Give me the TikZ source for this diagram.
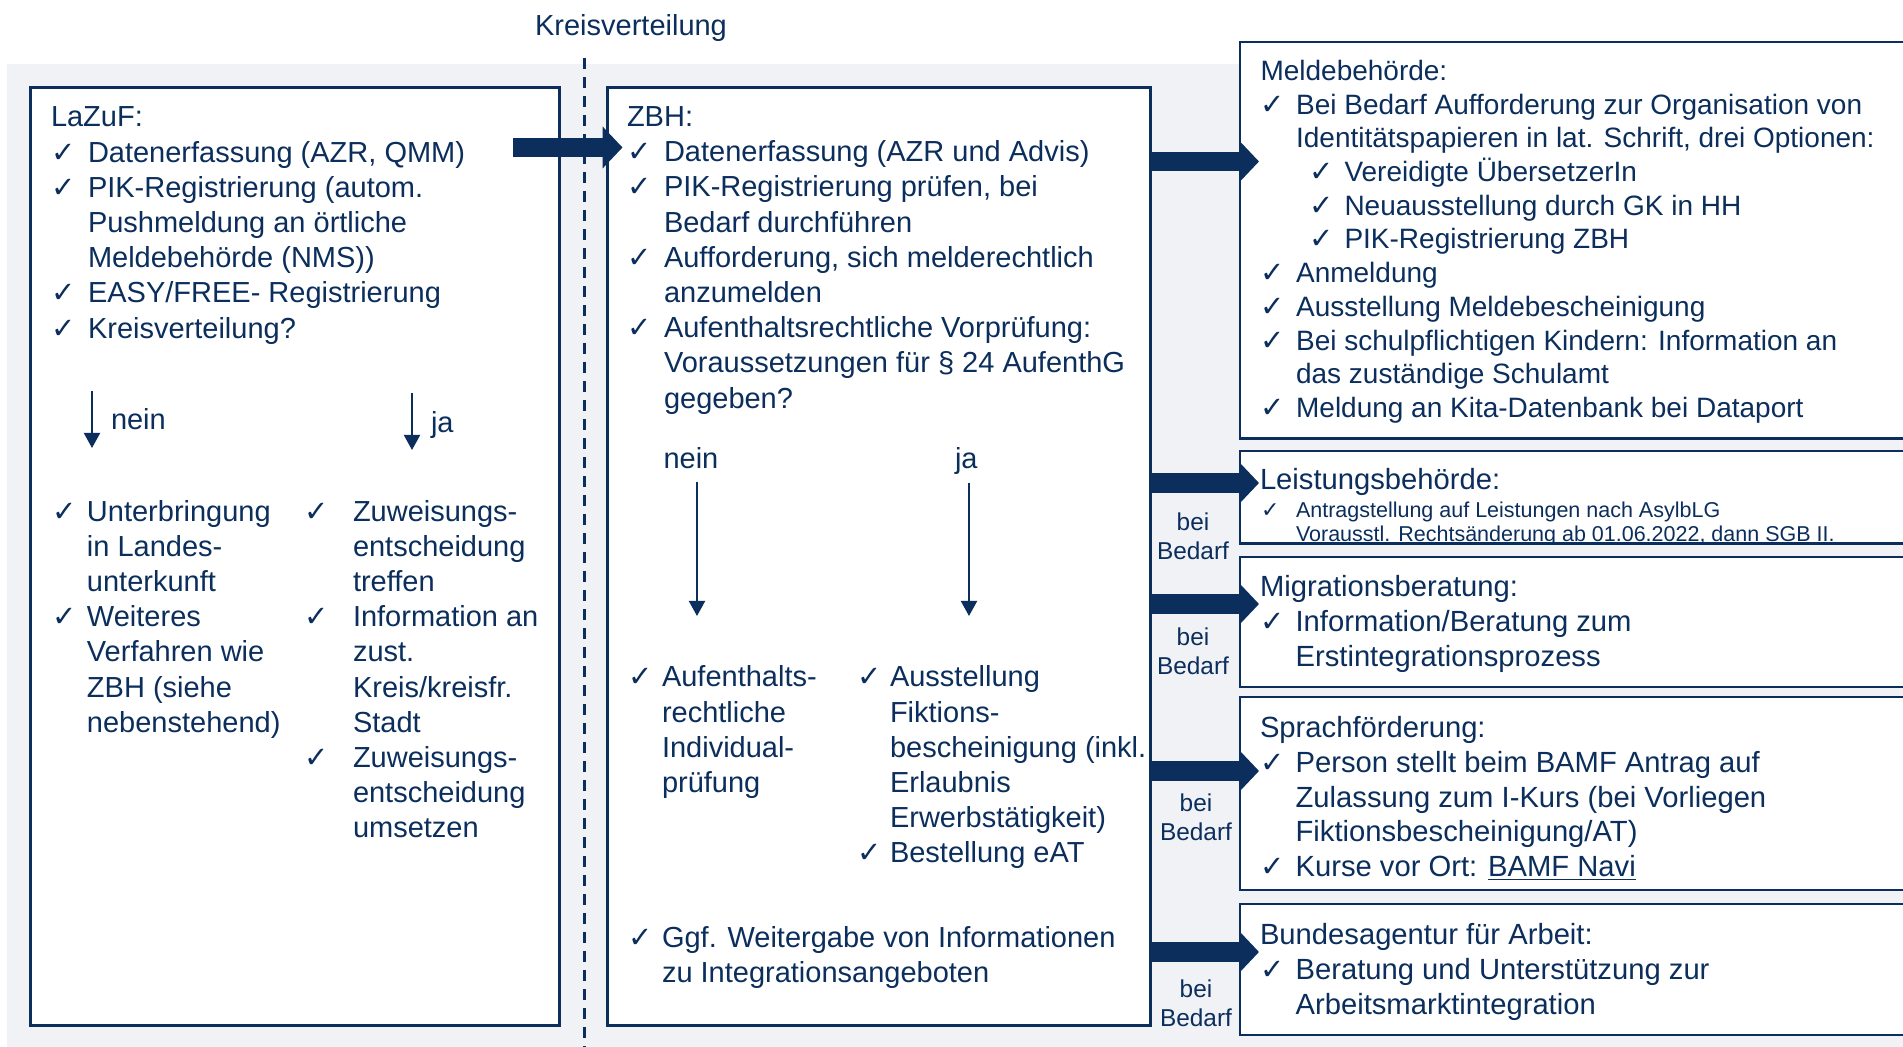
\documentclass[tikz,border=0pt]{standalone}
\usepackage{fontspec}
\setmainfont{Liberation Sans}
\newfontfamily\ckfam{DejaVu Sans}
\usetikzlibrary{arrows.meta,calc}
\definecolor{navy}{HTML}{0B2E5C}
\definecolor{bggrey}{HTML}{F1F2F6}
\newcommand\ckm[1]{\makebox[#1][l]{\ckfam\fontsize{14.5pt}{14.5pt}\selectfont ✓}}
\newcommand\cks[1]{\makebox[#1][l]{\ckfam\fontsize{11pt}{11pt}\selectfont ✓}}
\newcommand\indm[1]{\hspace*{#1}}
\newcommand\fstrut{\rule{0pt}{14pt}}
\begin{document}
\begin{tikzpicture}[x=0.5pt,y=-0.5pt,
  every node/.style={inner sep=0pt,outer sep=0pt,text=navy},
  frame/.style={draw=navy,line width=1.3pt,fill=white,anchor=north west},
  tx/.style={yshift=-0.75pt},
  blk/.style={tx,anchor=north west,align=left,font=\fontsize{14.5pt}{17.6pt}\selectfont},
  mblk/.style={tx,anchor=north west,align=left,font=\fontsize{14pt}{16.85pt}\selectfont},
  rblk/.style={tx,anchor=north west,align=left,font=\fontsize{14.6pt}{17.4pt}\selectfont},
  sblk/.style={tx,anchor=north west,align=left,font=\fontsize{10.75pt}{12.2pt}\selectfont},
  lbl/.style={tx,anchor=base west,font=\fontsize{14.5pt}{17.6pt}\selectfont},
  bigarrow/.style={navy,line width=9.75pt,-{Triangle[length=10pt,width=20.5pt]}},
  thinarrow/.style={navy,line width=1pt,-{Triangle[length=7.5pt,width=8pt]}},
  bedarf/.style={tx,anchor=north,align=center,font=\fontsize{12.2pt}{14.5pt}\selectfont},
]
\path[use as bounding box] (0,0) rectangle (1903,1047);
\clip (0,0) rectangle (1903,1047);
\fill[bggrey] (7,64) rectangle (1930,1060);

% heading and divider
\node[lbl,anchor=base] (kv) at (631,34) {Kreisverteilung};
\draw[navy,line width=1.5pt,dash pattern=on 5.5pt off 4pt] (584,58) -- (584,1060);

% frames
\node[frame,minimum width=264.5pt,minimum height=469pt] (lazuf) at (30.5,87.5) {};
\node[frame,minimum width=271.5pt,minimum height=469pt] (zbh) at (607.5,87.5) {};
\node[frame,minimum width=345pt,minimum height=198.25pt] (melde) at (1240,42) {};
\node[frame,minimum width=345pt,minimum height=46.25pt] (leist) at (1240,451) {};
\node[frame,minimum width=345pt,minimum height=65pt] (migra) at (1240,557) {};
\node[frame,minimum width=345pt,minimum height=96.5pt] (sprach) at (1240,697) {};
\node[frame,minimum width=345pt,minimum height=65.5pt] (bundes) at (1240,904) {};

% LaZuF texts
\node[blk] (lz1) at (51,97.5) {\fstrut LaZuF:\\
\ckm{18.5pt}Datenerfassung (AZR, QMM)\\
\ckm{18.5pt}PIK-Registrierung (autom.\\
\indm{18.5pt}Pushmeldung an örtliche\\
\indm{18.5pt}Meldebehörde (NMS))\\
\ckm{18.5pt}EASY/FREE- Registrierung\\
\ckm{18.5pt}Kreisverteilung?};
\node[lbl] (lzn) at (111,428.5) {nein};
\node[lbl] (lzj) at (431,431) {ja};
\coordinate (lzna) at (92,391);
\coordinate (lznb) at (92,448);
\coordinate (lzja) at (412,393);
\coordinate (lzjb) at (412,450);
\draw[thinarrow] (lzna) -- (lznb);
\draw[thinarrow] (lzja) -- (lzjb);
\node[blk] (lz2) at (53,491.6) {\fstrut\ckm{17pt}Unterbringung\\
\indm{17pt}in Landes-\\
\indm{17pt}unterkunft\\
\ckm{17pt}Weiteres\\
\indm{17pt}Verfahren wie\\
\indm{17pt}ZBH (siehe\\
\indm{17pt}nebenstehend)};
\node[blk] (lz3) at (304,491.6) {\fstrut\ckm{24.5pt}Zuweisungs-\\
\indm{24.5pt}entscheidung\\
\indm{24.5pt}treffen\\
\ckm{24.5pt}Information an\\
\indm{24.5pt}zust.\\
\indm{24.5pt}Kreis/kreisfr.\\
\indm{24.5pt}Stadt\\
\ckm{24.5pt}Zuweisungs-\\
\indm{24.5pt}entscheidung\\
\indm{24.5pt}umsetzen};

% ZBH texts
\node[blk] (zb1) at (627,97) {\fstrut ZBH:\\
\ckm{18.5pt}Datenerfassung (AZR und Advis)\\
\ckm{18.5pt}PIK-Registrierung prüfen, bei\\
\indm{18.5pt}Bedarf durchführen\\
\ckm{18.5pt}Aufforderung, sich melderechtlich\\
\indm{18.5pt}anzumelden\\
\ckm{18.5pt}Aufenthaltsrechtliche Vorprüfung:\\
\indm{18.5pt}Voraussetzungen für § 24 AufenthG\\
\indm{18.5pt}gegeben?};
\node[lbl] (zbn) at (663.5,467) {nein};
\node[lbl] (zbj) at (955,467) {ja};
\coordinate (zbna) at (697,482);
\coordinate (zbnb) at (697,616);
\coordinate (zbja) at (969,483);
\coordinate (zbjb) at (969,616);
\draw[thinarrow] (zbna) -- (zbnb);
\draw[thinarrow] (zbja) -- (zbjb);
\node[blk] (zb2) at (628,657.5) {\fstrut\ckm{17pt}Aufenthalts-\\
\indm{17pt}rechtliche\\
\indm{17pt}Individual-\\
\indm{17pt}prüfung};
\node[blk] (zb3) at (857,657.5) {\fstrut\ckm{16.5pt}Ausstellung\\
\indm{16.5pt}Fiktions-\\
\indm{16.5pt}bescheinigung (inkl.\\
\indm{16.5pt}Erlaubnis\\
\indm{16.5pt}Erwerbstätigkeit)\\
\ckm{16.5pt}Bestellung eAT};
\node[blk] (zb4) at (628,917.5) {\fstrut\ckm{17pt}Ggf. Weitergabe von Informationen\\
\indm{17pt}zu Integrationsangeboten};

% right-hand texts
\node[mblk] (me1) at (1260.5,51) {\fstrut Meldebehörde:\\
\ckm{17.8pt}Bei Bedarf Aufforderung zur Organisation von\\
\indm{17.8pt}Identitätspapieren in lat. Schrift, drei Optionen:\\
\indm{24.5pt}\ckm{17.5pt}Vereidigte ÜbersetzerIn\\
\indm{24.5pt}\ckm{17.5pt}Neuausstellung durch GK in HH\\
\indm{24.5pt}\ckm{17.5pt}PIK-Registrierung ZBH\\
\ckm{17.8pt}Anmeldung\\
\ckm{17.8pt}Ausstellung Meldebescheinigung\\
\ckm{17.8pt}Bei schulpflichtigen Kindern: Information an\\
\indm{17.8pt}das zuständige Schulamt\\
\ckm{17.8pt}Meldung an Kita-Datenbank bei Dataport};

\node[lbl,font=\fontsize{14.6pt}{17.4pt}\selectfont] (le1) at (1260,488.5) {Leistungsbehörde:};
\begin{scope}
\clip (1240,451) rectangle (1930,542);
\node[sblk] (le2) at (1261,493.6) {\rule{0pt}{11pt}\cks{17.5pt}Antragstellung auf Leistungen nach AsylbLG\\
\indm{17.5pt}Vorausstl. Rechtsänderung ab 01.06.2022, dann SGB II.};
\end{scope}

\node[rblk] (mi1) at (1260,567.5) {\fstrut Migrationsberatung:\\
\ckm{17.8pt}Information/Beratung zum\\
\indm{17.8pt}Erstintegrationsprozess};
\node[rblk] (sp1) at (1260,708) {\fstrut Sprachförderung:\\
\ckm{17.8pt}Person stellt beim BAMF Antrag auf\\
\indm{17.8pt}Zulassung zum I-Kurs (bei Vorliegen\\
\indm{17.8pt}Fiktionsbescheinigung/AT)\\
\ckm{17.8pt}Kurse vor Ort: \underline{BAMF Navi}};
\node[rblk] (bu1) at (1260,915) {\fstrut Bundesagentur für Arbeit:\\
\ckm{17.8pt}Beratung und Unterstützung zur\\
\indm{17.8pt}Arbeitsmarktintegration};

% bei Bedarf labels
\node[bedarf] (bb1) at (1193,507) {\rule{0pt}{11pt}bei\\Bedarf};
\node[bedarf] (bb2) at (1193,622) {\rule{0pt}{11pt}bei\\Bedarf};
\node[bedarf] (bb3) at (1196,788) {\rule{0pt}{11pt}bei\\Bedarf};
\node[bedarf] (bb4) at (1196,974) {\rule{0pt}{11pt}bei\\Bedarf};

% block arrows
\draw[bigarrow] ($(lazuf.east |- 0,147.5)+(-46.5,0)$) -- ($(zbh.west |- 0,147.5)+(15,0)$);
\draw[bigarrow] (zbh.east |- 0,161.5) -- ($(melde.west |- 0,161.5)+(19,0)$);
\draw[bigarrow] (zbh.east |- 0,483) -- ($(leist.west |- 0,483)+(19,0)$);
\draw[bigarrow] (zbh.east |- 0,604) -- ($(migra.west |- 0,604)+(19,0)$);
\draw[bigarrow] (zbh.east |- 0,771) -- ($(sprach.west |- 0,771)+(19,0)$);
\draw[bigarrow] (zbh.east |- 0,952) -- ($(bundes.west |- 0,952)+(19,0)$);
\end{tikzpicture}
\end{document}
